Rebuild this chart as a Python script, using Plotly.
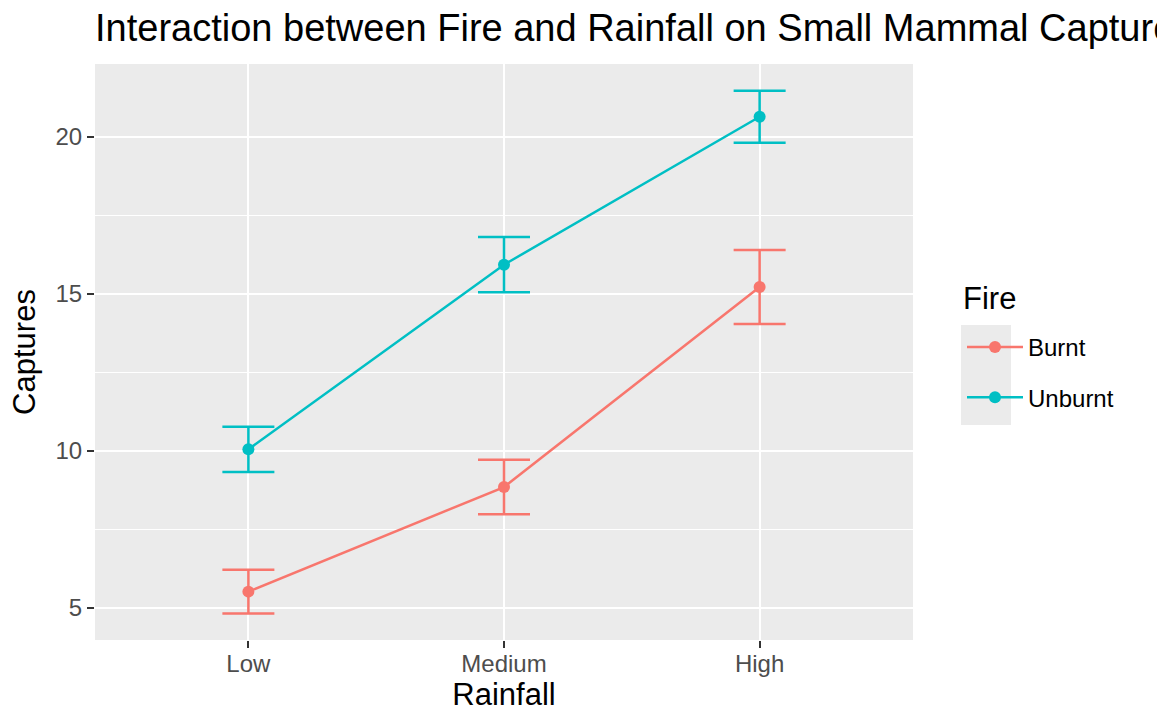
import plotly.graph_objects as go

# Mean small-mammal captures by rainfall level, with standard errors
rainfall = ["Low", "Medium", "High"]
burnt_mean = [5.52, 8.85, 15.22]
burnt_se = [0.70, 0.87, 1.18]
unburnt_mean = [10.05, 15.93, 20.64]
unburnt_se = [0.72, 0.88, 0.83]

y_ticks = [5, 10, 15, 20]

FONT = "Liberation Sans, Arial, Helvetica, sans-serif"
COL_BURNT = "#F8766D"
COL_UNBURNT = "#00BFC4"

W, H = 1157, 713
L, R, T, B = 95, 244, 64, 73
PW, PH = W - L - R, H - T - B

x_pos = list(range(1, len(rainfall) + 1))

fig = go.Figure()
for name, mean, se, col in [
    ("Burnt", burnt_mean, burnt_se, COL_BURNT),
    ("Unburnt", unburnt_mean, unburnt_se, COL_UNBURNT),
]:
    fig.add_trace(go.Scatter(
        x=x_pos, y=mean, name=name, legendgroup=name,
        mode="lines+markers",
        line=dict(color=col, width=2.5),
        marker=dict(color=col, size=12),
        error_y=dict(type="data", array=se, visible=True,
                     color=col, thickness=2.5, width=26),
    ))

# grey background behind the legend keys
fig.add_shape(type="rect", xref="paper", yref="paper",
              x0=(961 - L) / PW, x1=(1011 - L) / PW,
              y0=(H - B - 425) / PH, y1=(H - B - 325) / PH,
              fillcolor="#EBEBEB", line=dict(width=0), layer="below")

# legend heading
fig.add_annotation(text="Fire", xref="paper", yref="paper",
                   x=(961 - L) / PW, xanchor="left",
                   y=(H - B - 298) / PH, yanchor="middle",
                   showarrow=False, font=dict(size=31, color="black"))

fig.update_layout(
    width=W, height=H,
    margin=dict(l=L, r=R, t=T, b=B),
    paper_bgcolor="white", plot_bgcolor="#EBEBEB",
    font=dict(family=FONT, color="black"),
    title=dict(text="Interaction between Fire and Rainfall on Small Mammal Captures",
               x=L / W, xanchor="left", xref="container",
               y=1 - 28 / H, yanchor="middle", yref="container",
               font=dict(size=38, color="black")),
    xaxis=dict(
        range=[0.4, 3.6], tickmode="array", tickvals=x_pos, ticktext=rainfall,
        showgrid=True, gridcolor="white", gridwidth=2.2, zeroline=False,
        ticks="outside", ticklen=7, tickwidth=2, tickcolor="#333333",
        tickfont=dict(size=24, color="#4D4D4D"), ticklabelstandoff=-5,
        title=dict(text="Rainfall", font=dict(size=31, color="black"), standoff=6),
        showline=False, automargin=False,
    ),
    yaxis=dict(
        range=[3.98, 22.32], tickmode="array", tickvals=y_ticks,
        showgrid=True, gridcolor="white", gridwidth=2.2, zeroline=False,
        ticks="outside", ticklen=7, tickwidth=2, tickcolor="#333333",
        tickfont=dict(size=24, color="#4D4D4D"),
        title=dict(text="Captures", font=dict(size=31, color="black"), standoff=10),
        minor=dict(tickvals=[7.5, 12.5, 17.5], showgrid=True,
                   gridcolor="white", gridwidth=1.1, ticks=""),
        showline=False, automargin=False,
    ),
    legend=dict(
        x=(962 - L) / PW, xanchor="left",
        y=(H - B - 325) / PH, yanchor="top",
        bgcolor="rgba(0,0,0,0)",
        font=dict(size=24, color="black"),
        tracegroupgap=16,
        itemwidth=56,
    ),
)

fig.write_html("out.html")
